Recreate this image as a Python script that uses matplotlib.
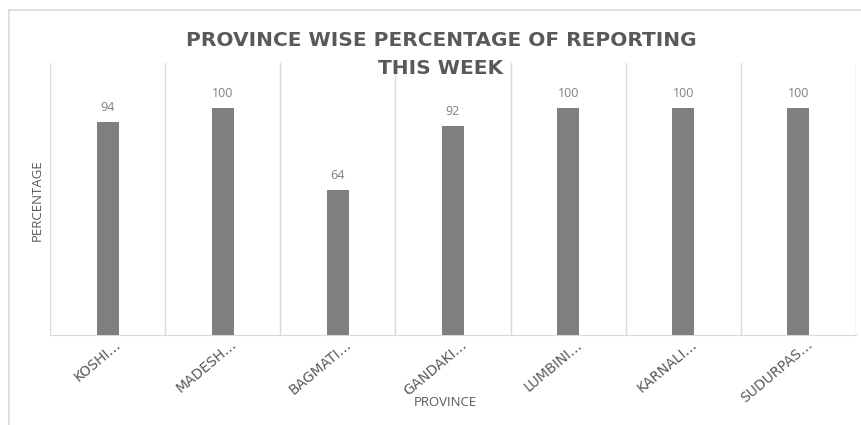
import numpy as np
import matplotlib.pyplot as plt
from matplotlib.patches import Rectangle
import matplotlib.transforms as mtransforms

provinces = ['KOSHI…', 'MADESH…', 'BAGMATI…', 'GANDAKI…', 'LUMBINI…', 'KARNALI…', 'SUDURPAS…']
percentage = [94, 100, 64, 92, 100, 100, 100]

plt.rcParams['font.family'] = ['Open Sans', 'DejaVu Sans']

fig = plt.figure(figsize=(8.61, 4.25), dpi=100)
fig.patch.set_facecolor('white')

# chart border like the excel chart area
fig.patches.append(Rectangle((9/861, -0.1), 1.2, 1 - 10/425 + 0.1, transform=fig.transFigure,
                             fill=False, edgecolor='#d9d9d9', linewidth=1.2))

ax = fig.add_axes([50/861, 1 - 335/425, 806/861, 272/425])
x = np.arange(len(provinces))
bars = ax.bar(x, percentage, width=0.19, color='#7f7f7f', zorder=3)

for b, v in zip(bars, percentage):
    ax.annotate(str(v), (b.get_x() + b.get_width()/2, v), xytext=(0, 6), textcoords='offset points',
                ha='center', va='bottom', fontsize=9, color='#808080')

for i in range(len(provinces) + 1):
    ax.axvline(i - 0.5, color='#d9d9d9', linewidth=1, zorder=1)

ax.set_xlim(-0.5, len(provinces) - 0.5)
ax.set_ylim(0, 120)
ax.set_yticks([])
for s in ['top', 'right', 'left']:
    ax.spines[s].set_visible(False)
ax.spines['bottom'].set_color('#d9d9d9')
ax.tick_params(axis='x', length=0, pad=2)
ax.set_xticks(x)
ax.set_xticklabels(provinces, rotation=40, ha='right', va='center', rotation_mode='anchor',
                   fontsize=10, color='#595959', family='DejaVu Sans')
offset = mtransforms.ScaledTranslation(12/100, -5/100, fig.dpi_scale_trans)
for lab in ax.get_xticklabels():
    lab.set_transform(lab.get_transform() + offset)

fig.text(445/861, 1 - 403/425, 'PROVINCE', ha='center', va='center', fontsize=9.5, color='#595959')
fig.text(37/861, 1 - 200/425, 'PERCENTAGE', ha='center', va='center', rotation=90,
         fontsize=9.5, color='#595959')

fig.text(441/861, 1 - 41/425, 'PROVINCE WISE PERCENTAGE OF REPORTING', ha='center', va='center',
         fontsize=14.5, fontweight='bold', color='#595959', family='DejaVu Sans')
fig.text(441/861, 1 - 69/425, 'THIS WEEK', ha='center', va='center',
         fontsize=14.5, fontweight='bold', color='#595959', family='DejaVu Sans')

fig.savefig('out.png', dpi=100, facecolor='white')
